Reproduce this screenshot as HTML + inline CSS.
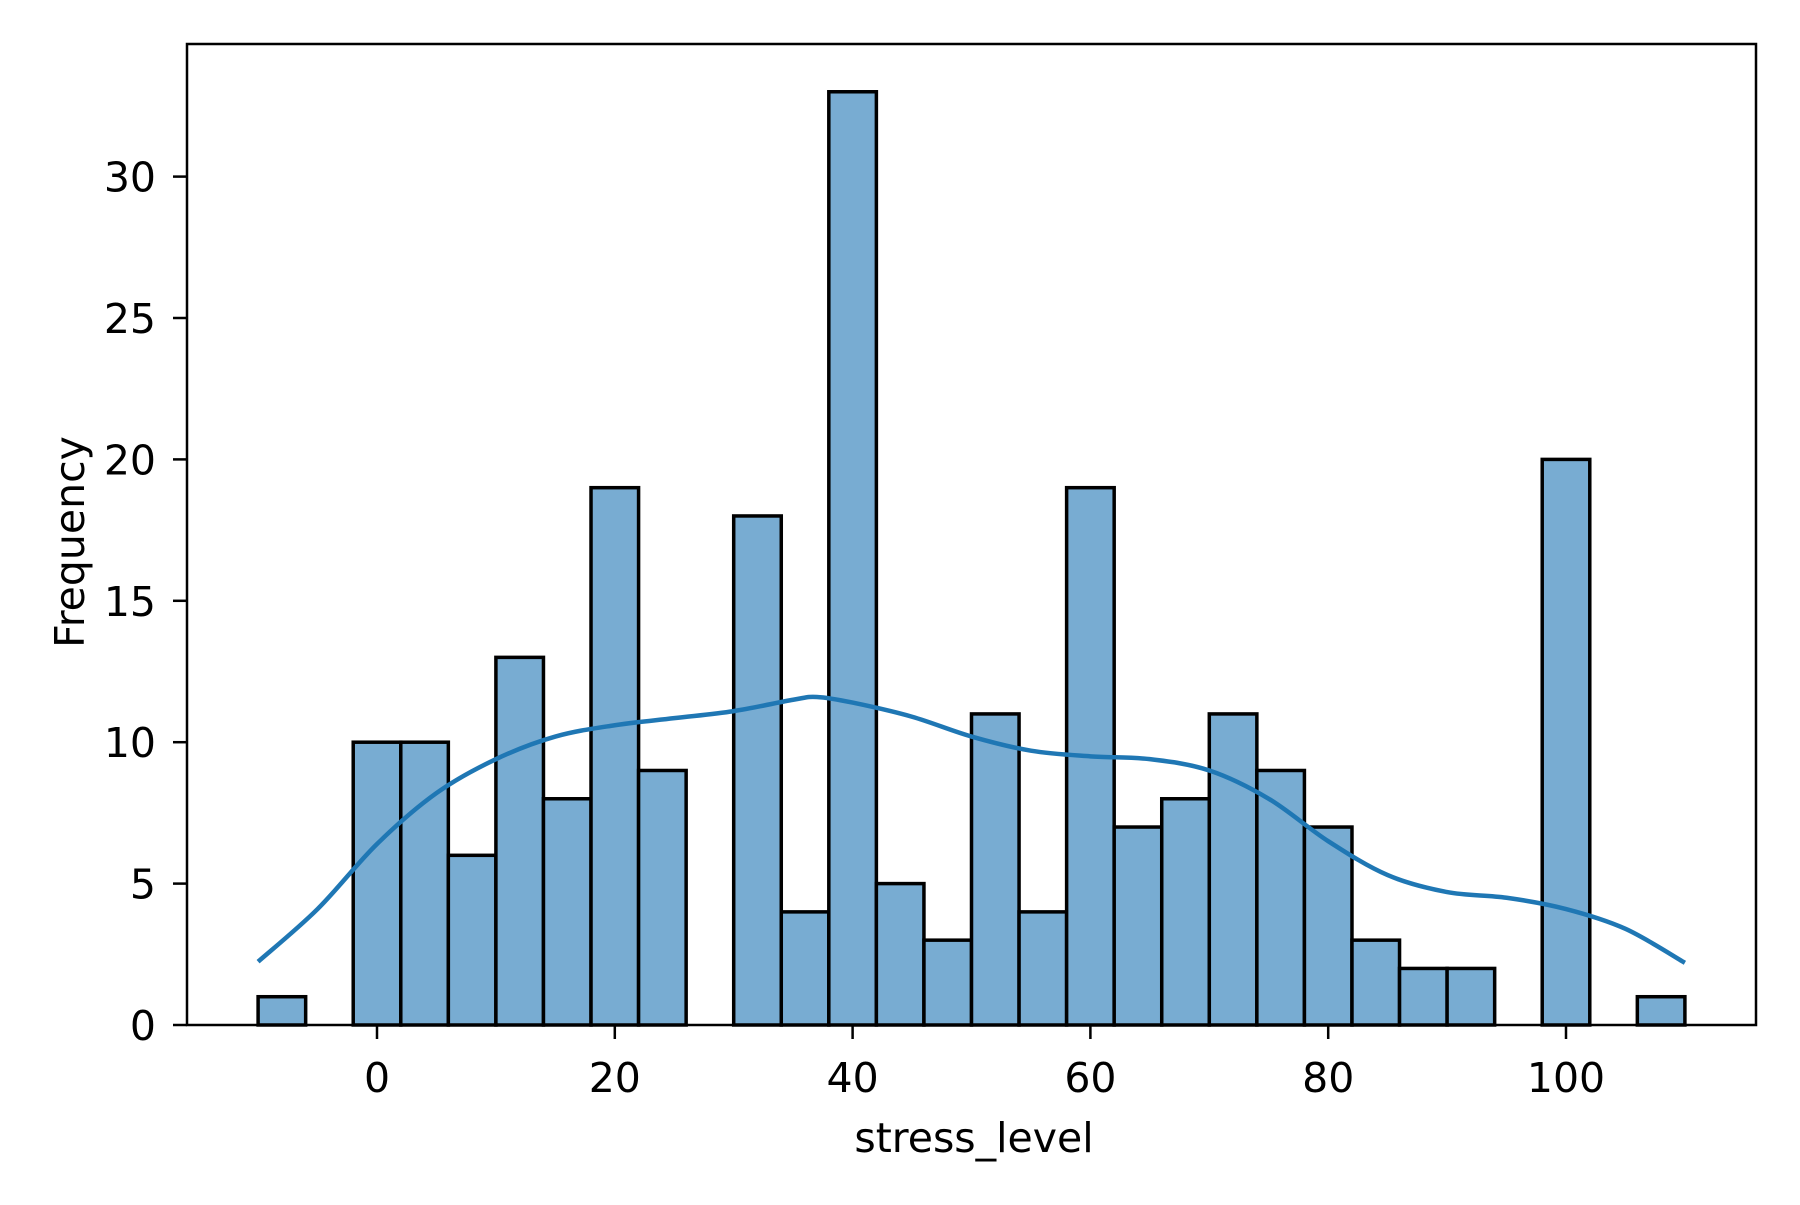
<!DOCTYPE html>
<html><head><meta charset="utf-8"><style>
html,body{margin:0;padding:0;background:#fff}
svg text{font-family:"DejaVu Sans","Liberation Sans",sans-serif;fill:#000}
</style></head><body>
<svg id="chart" width="1800" height="1200" viewBox="0 0 1800 1200" xmlns="http://www.w3.org/2000/svg">
<rect width="1800" height="1200" fill="#fff"/>
<g id="bars"></g>
<path id="kde" fill="none" stroke="#1f77b4" stroke-width="4.5"/>
<rect x="187" y="44" width="1569" height="981" fill="none" stroke="#000" stroke-width="2.5"/>
<g id="xticks"></g>
<g id="yticks"></g>
<text x="974" y="1152" font-size="41" text-anchor="middle">stress_level</text>
<text transform="translate(84,542) rotate(-90)" font-size="41" text-anchor="middle">Frequency</text>
</svg>
<script>
const binStart = -10;
const binWidth = 4;
const counts = [1,0,10,10,6,13,8,19,9,0,18,4,33,5,3,11,4,19,7,8,11,9,7,3,2,2,0,20,0,1];
const kdeX = [-10,-5,0,5,10,15,20,25,30,35,37,40,45,50,55,60,65,70,75,80,85,90,95,100,105,110];
const kdeY = [2.24,4.1,6.4,8.2,9.4,10.2,10.6,10.85,11.1,11.5,11.6,11.4,10.9,10.2,9.7,9.5,9.4,9.0,8.0,6.5,5.3,4.7,4.5,4.1,3.4,2.2];
const xTicks = [0,20,40,60,80,100];
const yTicks = [0,5,10,15,20,25,30];
const NS = "http://www.w3.org/2000/svg";
function sx(v){return 377 + v*11.89;}
function sy(v){return 1025 - v*28.28;}
const bars = document.getElementById('bars');
counts.forEach((c,i)=>{
  const x0 = binStart + i*binWidth;
  if(c<=0) return;
  const r = document.createElementNS(NS,'rect');
  r.setAttribute('x', sx(x0));
  r.setAttribute('y', sy(c));
  r.setAttribute('width', sx(x0+binWidth)-sx(x0));
  r.setAttribute('height', sy(0)-sy(c));
  r.setAttribute('fill','#78acd2');
  r.setAttribute('stroke','#000');
  r.setAttribute('stroke-width','3.5');
  
  
  bars.appendChild(r);
});
const pts = kdeX.map((x,i)=>[sx(x), sy(kdeY[i])]);
let d = 'M'+pts[0][0]+','+pts[0][1];
for(let i=0;i<pts.length-1;i++){
  const p0=pts[Math.max(0,i-1)], p1=pts[i], p2=pts[i+1], p3=pts[Math.min(pts.length-1,i+2)];
  const c1=[p1[0]+(p2[0]-p0[0])/6, p1[1]+(p2[1]-p0[1])/6];
  const c2=[p2[0]-(p3[0]-p1[0])/6, p2[1]-(p3[1]-p1[1])/6];
  d+=' C'+c1[0]+','+c1[1]+' '+c2[0]+','+c2[1]+' '+p2[0]+','+p2[1];
}
document.getElementById('kde').setAttribute('d', d);
const xg = document.getElementById('xticks');
xTicks.forEach(t=>{
  const l=document.createElementNS(NS,'line');
  l.setAttribute('x1',sx(t));l.setAttribute('x2',sx(t));
  l.setAttribute('y1',1025);l.setAttribute('y2',1039);
  l.setAttribute('stroke','#000');l.setAttribute('stroke-width','2.5');
  
  
  xg.appendChild(l);
  const tx=document.createElementNS(NS,'text');
  tx.setAttribute('x',sx(t));tx.setAttribute('y',1092);
  tx.setAttribute('font-size','41');tx.setAttribute('text-anchor','middle');
  tx.textContent=t;
  
  
  xg.appendChild(tx);
});
const yg = document.getElementById('yticks');
yTicks.forEach(t=>{
  const l=document.createElementNS(NS,'line');
  l.setAttribute('x1',173);l.setAttribute('x2',187);
  l.setAttribute('y1',sy(t));l.setAttribute('y2',sy(t));
  l.setAttribute('stroke','#000');l.setAttribute('stroke-width','2.5');
  
  
  yg.appendChild(l);
  const tx=document.createElementNS(NS,'text');
  tx.setAttribute('x',156);tx.setAttribute('y',sy(t)+15);
  tx.setAttribute('font-size','41');tx.setAttribute('text-anchor','end');
  tx.textContent=t;
  
  
  yg.appendChild(tx);
});
</script>
</body></html>
